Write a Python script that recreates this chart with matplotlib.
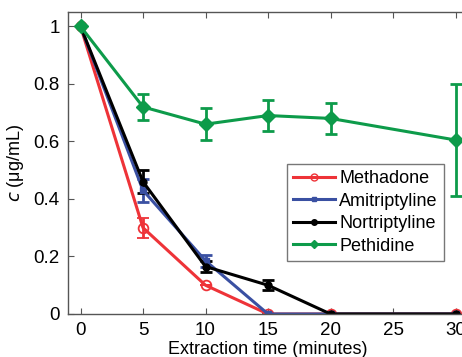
import matplotlib
matplotlib.use("Agg")
import matplotlib.pyplot as plt
from matplotlib.lines import Line2D

plt.rcParams['font.family'] = ['Liberation Sans', 'DejaVu Sans']

time = [0, 5, 10, 15, 20, 30]
methadone = [1.0, 0.30, 0.10, 0.0, 0.0, 0.0]
methadone_err = [0.0, 0.035, 0.0, 0.0, 0.0, 0.0]
amitriptyline = [1.0, 0.43, 0.185, 0.0, 0.0, 0.0]
amitriptyline_err = [0.0, 0.04, 0.02, 0.0, 0.0, 0.0]
nortriptyline = [1.0, 0.46, 0.165, 0.10, 0.0, 0.0]
nortriptyline_err = [0.0, 0.04, 0.018, 0.018, 0.0, 0.0]
pethidine = [1.0, 0.72, 0.66, 0.69, 0.68, 0.605]
pethidine_err = [0.0, 0.045, 0.055, 0.055, 0.055, 0.195]
labels = ['Methadone', 'Amitriptyline', 'Nortriptyline', 'Pethidine']
xticks = [0, 5, 10, 15, 20, 25, 30]
yticks = [0, 0.2, 0.4, 0.6, 0.8, 1]

fig = plt.figure(figsize=(4.62, 3.57), dpi=100)
ax = fig.add_axes([68/462, 43/357, 400/462, (314-12)/357])

red = '#ee3338'
blue = '#3a50a2'
black = '#000000'
green = '#0d9b4a'

ax.errorbar(time, methadone, yerr=methadone_err, color=red, lw=2.2, marker='o',
            ms=7, mfc='none', mec=red, mew=1.3, capsize=4, elinewidth=2, capthick=2)
ax.errorbar(time, amitriptyline, yerr=amitriptyline_err, color=blue, lw=2.2, marker='s',
            ms=4, capsize=4, elinewidth=2, capthick=2)
ax.errorbar(time, nortriptyline, yerr=nortriptyline_err, color=black, lw=2.2, marker='o',
            ms=5, capsize=4, elinewidth=2, capthick=2)
ax.errorbar(time, pethidine, yerr=pethidine_err, color=green, lw=2.2, marker='D',
            ms=7, capsize=4, elinewidth=2, capthick=2)

ax.set_xlim(-1, 31)
ax.set_ylim(0, 1.05)
ax.set_xticks(xticks)
ax.set_xticklabels([str(t) for t in xticks])
ax.set_yticks(yticks)
ax.set_yticklabels(['0', '0.2', '0.4', '0.6', '0.8', '1'])
ax.tick_params(direction='in', length=4, labelsize=13.5, top=True, right=True,
               color='#555555', pad=6)
for s in ax.spines.values():
    s.set_color('#555555')
    s.set_linewidth(1)

ax.set_xlabel('Extraction time (minutes)', fontsize=13, labelpad=1)
ax.set_ylabel(r'$c$ (μg/mL)', fontsize=13, labelpad=5)

handles = [
    Line2D([], [], color=red, lw=2.2, marker='o', ms=5, mfc='none', mec=red, mew=1),
    Line2D([], [], color=blue, lw=2.2, marker='s', ms=3),
    Line2D([], [], color=black, lw=2.2, marker='o', ms=4),
    Line2D([], [], color=green, lw=2.2, marker='D', ms=4),
]
leg = ax.legend(handles, labels, loc='upper left',
                bbox_to_anchor=((287-68)/400, (314-164)/302),
                fontsize=13, frameon=True, fancybox=False, edgecolor='#555555',
                handlelength=2.3, borderpad=0.35, labelspacing=0.3, handletextpad=0.25,
                borderaxespad=0)
leg.get_frame().set_linewidth(1)

fig.savefig('out.png', dpi=100)
